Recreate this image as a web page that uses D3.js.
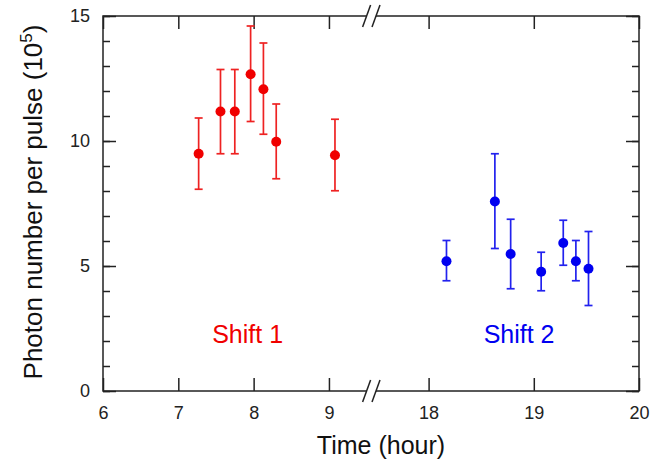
<!DOCTYPE html>
<html>
<head>
<meta charset="utf-8">
<script src="https://cdn.jsdelivr.net/npm/d3@7"></script>
<style>
  body { margin: 0; background: #fff; }
  text { font-family: "Liberation Sans", Arial, sans-serif; }
</style>
</head>
<body>
<div id="chart"></div>
<script>
// Shift 1 (morning) data
const shift1Time = [7.27, 7.56, 7.75, 7.96, 8.13, 8.30, 9.08];
const shift1Value = [9.49, 11.18, 11.18, 12.67, 12.07, 9.97, 9.43];
const shift1Low = [8.07, 9.49, 9.49, 10.78, 10.27, 8.49, 8.01];
const shift1High = [10.92, 12.86, 12.86, 14.60, 13.92, 11.48, 10.87];

// Shift 2 (evening) data
const shift2Time = [18.17, 18.63, 18.78, 19.07, 19.28, 19.40, 19.52];
const shift2Value = [5.19, 7.58, 5.48, 4.77, 5.92, 5.19, 4.89];
const shift2Low = [4.41, 5.70, 4.09, 4.01, 5.03, 4.41, 3.42];
const shift2High = [6.02, 9.49, 6.87, 5.55, 6.83, 6.02, 6.38];

const xTicksLeft = [6, 7, 8, 9];
const xTicksRight = [18, 19, 20];
const yMajorTicks = [0, 5, 10, 15];
const yMinorTicks = d3.range(0, 16);

const width = 663, height = 461;
const margin = { top: 16, right: 24, bottom: 70, left: 103 };
const plotW = width - margin.left - margin.right;   // 536
const plotH = height - margin.top - margin.bottom;  // 375

const svg = d3.select("#chart").append("svg")
    .attr("width", width)
    .attr("height", height);

const g = svg.append("g")
    .attr("transform", `translate(${margin.left},${margin.top})`);

// broken x axis: two scales side by side
const xLeft = d3.scaleLinear().domain([6, 9.5]).range([0, 263.6]);
const xRight = d3.scaleLinear().domain([17.5, 20]).range([273, plotW]);
const x = t => t < 12 ? xLeft(t) : xRight(t);

const y = d3.scaleLinear().domain([0, 15]).range([plotH, 0]);

const axisColor = "#222";
const tickFont = 18;

function styleAxis(sel) {
    sel.attr("font-size", tickFont).attr("font-family", "Liberation Sans, Arial, sans-serif");
    sel.select(".domain").remove();
    sel.selectAll("line").attr("stroke", axisColor).attr("stroke-width", 1.5);
    sel.selectAll("text")
        .attr("font-size", tickFont)
        .attr("fill", "#222");
}

// bottom axes
[[xLeft, xTicksLeft], [xRight, xTicksRight]].forEach(([sc, tv]) => {
    g.append("g")
        .attr("transform", `translate(0,${plotH})`)
        .call(d3.axisBottom(sc).tickValues(tv).tickSizeInner(-13).tickSizeOuter(0).tickPadding(15).tickFormat(d3.format("d")))
        .call(styleAxis);
    g.append("g")
        .call(d3.axisTop(sc).tickValues(tv).tickSizeInner(-13).tickSizeOuter(0).tickFormat(""))
        .call(styleAxis);
});

// y axes, minor ticks then major
g.append("g")
    .call(d3.axisLeft(y).tickValues(yMinorTicks).tickSizeInner(-7).tickSizeOuter(0).tickFormat(""))
    .call(styleAxis);
g.append("g")
    .call(d3.axisLeft(y).tickValues(yMajorTicks).tickSizeInner(-13).tickSizeOuter(0).tickPadding(13).tickFormat(d3.format("d")))
    .call(styleAxis);
g.append("g")
    .attr("transform", `translate(${plotW},0)`)
    .call(d3.axisRight(y).tickValues(yMinorTicks).tickSizeInner(-7).tickSizeOuter(0).tickFormat(""))
    .call(styleAxis);
g.append("g")
    .attr("transform", `translate(${plotW},0)`)
    .call(d3.axisRight(y).tickValues(yMajorTicks).tickSizeInner(-13).tickSizeOuter(0).tickFormat(""))
    .call(styleAxis);

// frame
g.append("rect")
    .attr("width", plotW)
    .attr("height", plotH)
    .attr("fill", "none")
    .attr("stroke", axisColor)
    .attr("stroke-width", 1.5);

// axis break marks (//) on top and bottom
const bx1 = xLeft(9.5), bx2 = xRight(17.5);
[0, plotH].forEach(yy => {
    g.append("polygon")
        .attr("points", `${bx1 - 4},${yy + 11} ${bx1 + 4},${yy - 11} ${bx2 + 4},${yy - 11} ${bx2 - 4},${yy + 11}`)
        .attr("fill", "#fff");
    [bx1, bx2].forEach(bx => {
        g.append("line")
            .attr("x1", bx - 4).attr("y1", yy + 11)
            .attr("x2", bx + 4).attr("y2", yy - 11)
            .attr("stroke", axisColor)
            .attr("stroke-width", 1.5);
    });
});

// error bars + points
function drawSeries(times, values, lows, highs, color, barColor) {
    const data = times.map((t, i) => ({ t, v: values[i], lo: lows[i], hi: highs[i] }));
    const grp = g.append("g");
    const cap = 4;
    grp.selectAll("line.bar").data(data).enter().append("line")
        .attr("class", "bar")
        .attr("x1", d => x(d.t)).attr("x2", d => x(d.t))
        .attr("y1", d => y(d.lo)).attr("y2", d => y(d.hi))
        .attr("stroke", barColor).attr("stroke-width", 1.7);
    grp.selectAll("line.capHi").data(data).enter().append("line")
        .attr("class", "capHi")
        .attr("x1", d => x(d.t) - cap).attr("x2", d => x(d.t) + cap)
        .attr("y1", d => y(d.hi)).attr("y2", d => y(d.hi))
        .attr("stroke", barColor).attr("stroke-width", 1.7);
    grp.selectAll("line.capLo").data(data).enter().append("line")
        .attr("class", "capLo")
        .attr("x1", d => x(d.t) - cap).attr("x2", d => x(d.t) + cap)
        .attr("y1", d => y(d.lo)).attr("y2", d => y(d.lo))
        .attr("stroke", barColor).attr("stroke-width", 1.7);
    grp.selectAll("circle").data(data).enter().append("circle")
        .attr("cx", d => x(d.t))
        .attr("cy", d => y(d.v))
        .attr("r", 5)
        .attr("fill", color);
}

drawSeries(shift1Time, shift1Value, shift1Low, shift1High, "#f00000", "#ee2222");
drawSeries(shift2Time, shift2Value, shift2Low, shift2High, "#0000f0", "#2222ee");

// shift labels
g.append("text")
    .attr("x", x(7.92))
    .attr("y", 327)
    .attr("text-anchor", "middle")
    .attr("fill", "#f00000")
    .style("font-size", "25px")
    .text("Shift 1");
g.append("text")
    .attr("x", xRight(18.86))
    .attr("y", 327)
    .attr("text-anchor", "middle")
    .attr("fill", "#0000f0")
    .style("font-size", "25px")
    .text("Shift 2");

// axis titles
svg.append("text")
    .attr("x", 381)
    .attr("y", 454)
    .attr("text-anchor", "middle")
    .attr("fill", "#111")
    .style("font-size", "25px")
    .text("Time (hour)");

const yTitle = svg.append("text")
    .attr("transform", "rotate(-90)")
    .attr("x", -202)
    .attr("y", 42)
    .attr("text-anchor", "middle")
    .attr("fill", "#111")
    .style("font-size", "26px");
yTitle.append("tspan").text("Photon number per pulse (10");
yTitle.append("tspan").attr("dy", -10).style("font-size", "17px").text("5");
yTitle.append("tspan").attr("dy", 10).text(")");
</script>
</body>
</html>
